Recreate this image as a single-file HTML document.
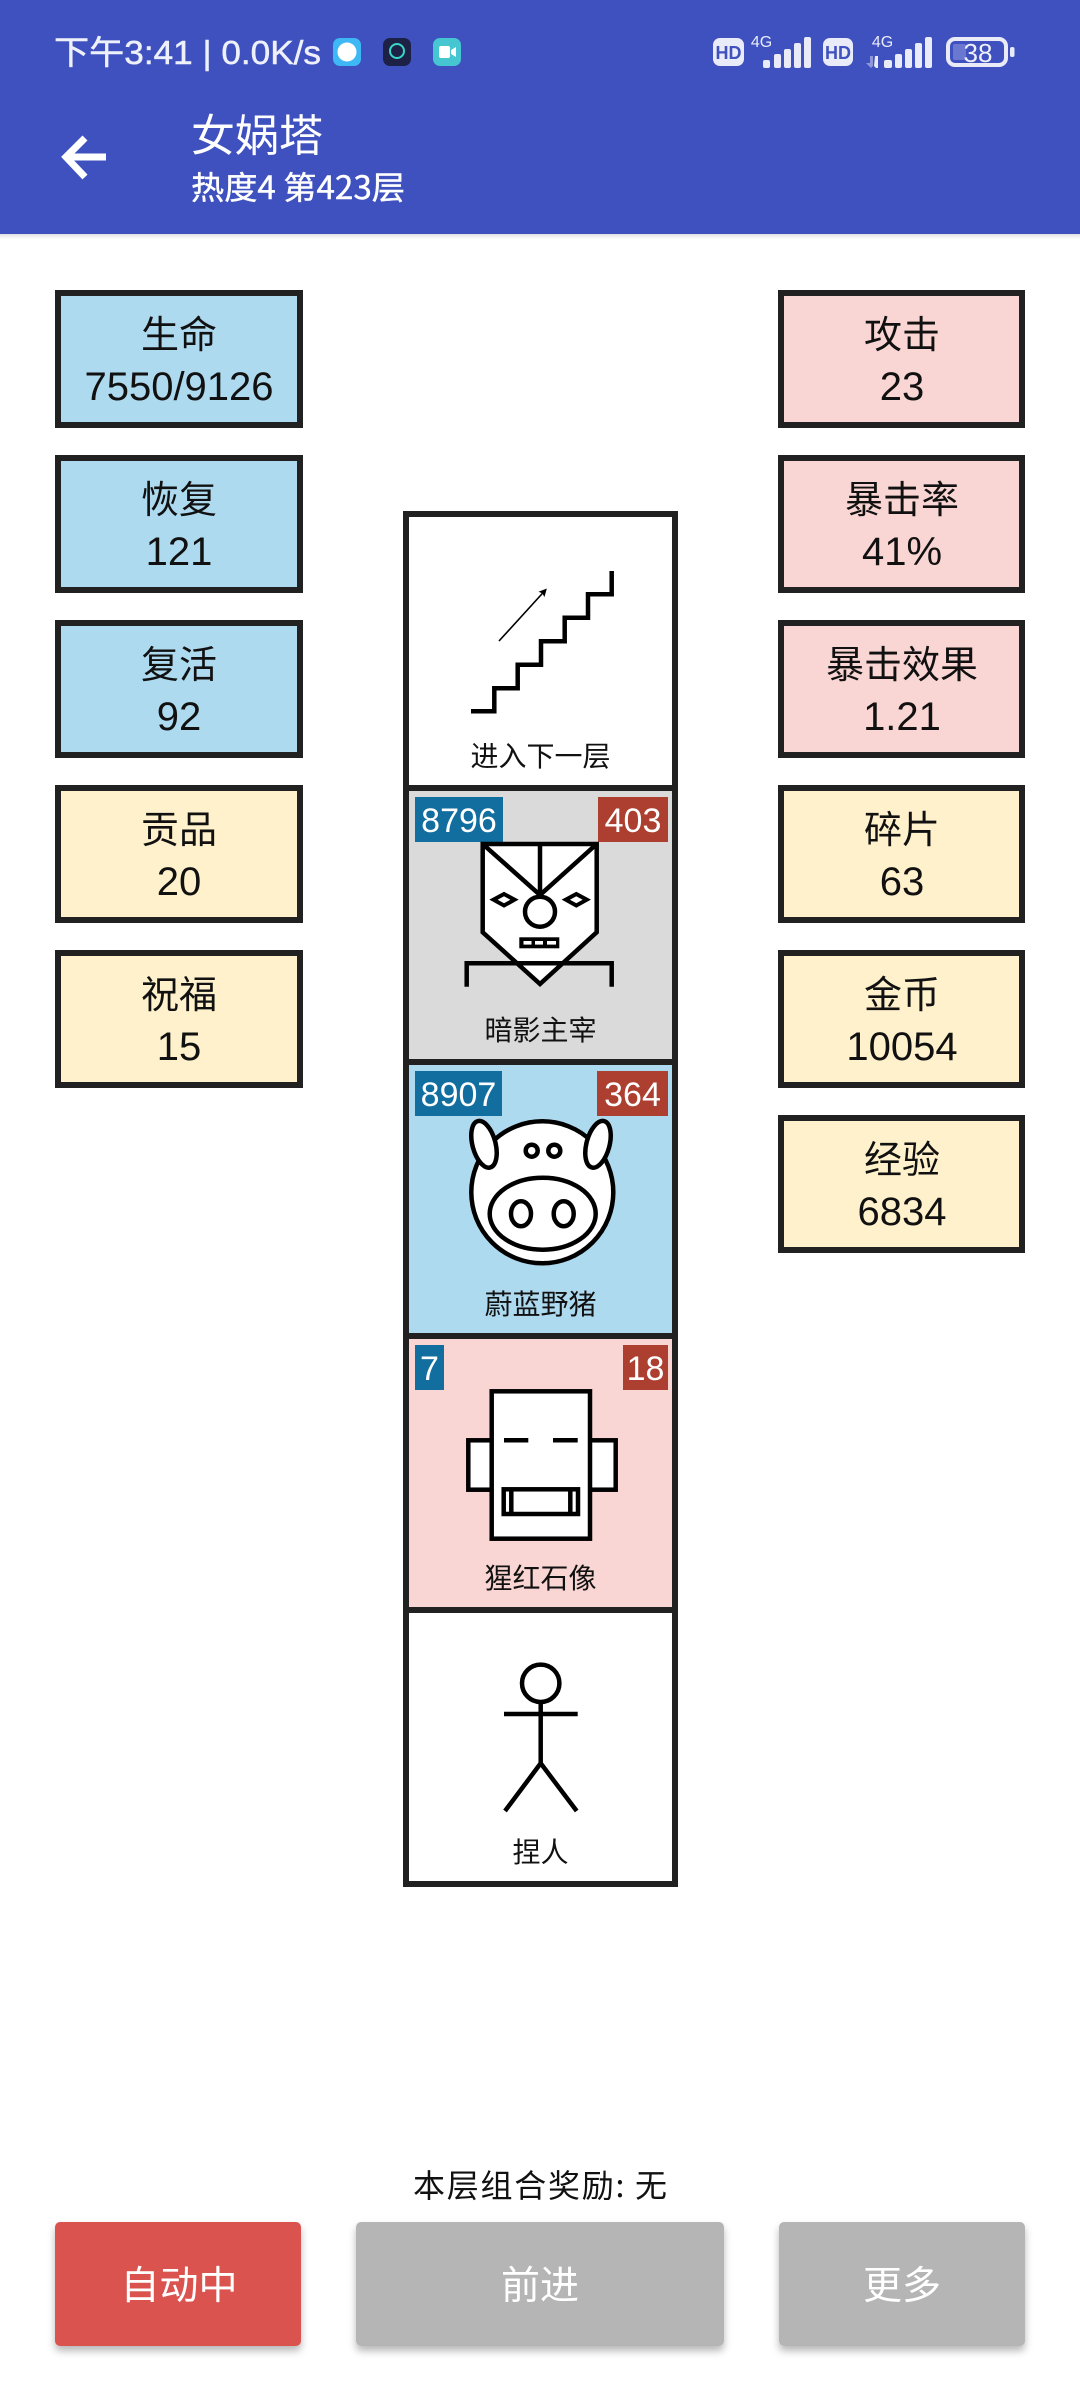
<!DOCTYPE html>
<html lang="zh">
<head>
<meta charset="utf-8">
<title>女娲塔</title>
<style>
html,body{margin:0;padding:0;background:#fff;width:1080px;height:2400px;overflow:hidden}
svg{display:block}
text{font-family:"Liberation Sans","Noto Sans CJK SC",sans-serif}
.cjk{font-family:"Noto Sans CJK SC","Liberation Sans",sans-serif}
.s{font-size:38px;fill:#111;text-anchor:middle}
.n{font-size:40px;fill:#111;text-anchor:middle}
.l{font-size:28px;fill:#111;text-anchor:middle}
.b{font-size:34px;fill:#fff;text-anchor:middle}
.box{stroke:#212121;stroke-width:6}
.k{fill:#fff;stroke:#000;stroke-width:4.5}
.o{fill:none;stroke:#000;stroke-width:4.5}
.btn{font-size:39px;fill:#fff;text-anchor:middle}
</style>
</head>
<body>
<svg width="1080" height="2400" viewBox="0 0 1080 2400" xmlns="http://www.w3.org/2000/svg">
<defs>
<linearGradient id="hs" x1="0" y1="0" x2="0" y2="1"><stop offset="0" stop-color="#000" stop-opacity=".12"/><stop offset="1" stop-color="#000" stop-opacity="0"/></linearGradient>
<filter id="sh" x="-10%" y="-10%" width="120%" height="125%"><feDropShadow dx="0" dy="5" stdDeviation="4" flood-color="#000" flood-opacity=".28"/></filter>
<marker id="ah" markerWidth="8" markerHeight="8" refX="6" refY="4" orient="auto" markerUnits="userSpaceOnUse"><path d="M0 0L8 4L0 8L1.5 4Z" fill="#000"/></marker>
</defs>
<rect width="1080" height="2400" fill="#fff"/>

<!-- Header -->
<rect width="1080" height="234" fill="#3F51BF"/>
<rect y="234" width="1080" height="5" fill="url(#hs)"/>
<text x="54" y="64" font-size="33" fill="#EEF0FA" stroke="#EEF0FA" stroke-width=".5" textLength="267" lengthAdjust="spacingAndGlyphs">下午3:41 | 0.0K/s</text>
<rect x="333" y="38" width="28" height="28" rx="7" fill="#3DB8F5"/><circle cx="347" cy="52" r="9.5" fill="#fff"/>
<rect x="383" y="38" width="28" height="28" rx="7" fill="#1D2145"/><circle cx="397" cy="51" r="7" fill="none" stroke="#38D6C4" stroke-width="2"/>
<rect x="433" y="38" width="28" height="28" rx="7" fill="#45C6D0"/><rect x="439" y="46" width="11" height="12" rx="2" fill="#fff"/><path d="M451 50l5-3v10l-5-3z" fill="#fff"/>

<rect x="713" y="38" width="31" height="28" rx="7" fill="#E9EBF8"/>
<text x="728.5" y="59" font-size="18" font-weight="bold" fill="#3F51BF" text-anchor="middle">HD</text>
<text x="761.5" y="47" font-size="16" fill="#E9EBF8" text-anchor="middle">4G</text>
<g fill="#E9EBF8">
<rect x="763" y="60" width="7" height="8" rx="2"/><rect x="774" y="54" width="7" height="14" rx="2"/><rect x="784" y="49" width="7" height="19" rx="2"/><rect x="794" y="43" width="7" height="25" rx="2"/><rect x="804" y="37" width="7" height="31" rx="2"/>
<rect x="823" y="38" width="30" height="28" rx="7"/>
<rect x="884" y="60" width="8" height="8" rx="2"/><rect x="895" y="54" width="7" height="14" rx="2"/><rect x="905" y="49" width="7" height="19" rx="2"/><rect x="915" y="43" width="7" height="25" rx="2"/><rect x="925" y="37" width="7" height="31" rx="2"/>
<path d="M875 56h3v12h-2l-2-2z"/>
</g>
<path d="M870 56v7h-4l5 5 2-2v-10z" fill="#8C97DC"/>
<text x="838" y="59" font-size="18" font-weight="bold" fill="#3F51BF" text-anchor="middle">HD</text>
<text x="882.5" y="47" font-size="16" fill="#E9EBF8" text-anchor="middle">4G</text>
<rect x="948" y="39" width="58" height="26" rx="7" fill="none" stroke="#E9EBF8" stroke-width="4"/>
<rect x="953" y="44" width="13" height="16" rx="2" fill="#6A78D0"/>
<text x="978" y="62" font-size="26" fill="#EEF0FA" text-anchor="middle">38</text>
<rect x="1010" y="47" width="4.5" height="10" rx="2" fill="#E9EBF8"/>

<path d="M106 157H68M85 138L66 157L85 177" fill="none" stroke="#fff" stroke-width="7"/>
<text class="cjk" x="191" y="151" font-size="44" fill="#fff">女娲塔</text>
<text class="cjk" x="191" y="199" font-size="32" fill="#fff" stroke="#fff" stroke-width=".4" textLength="214" lengthAdjust="spacingAndGlyphs">热度4 第423层</text>

<!-- Stats -->
<g class="box">
<rect x="58" y="293" width="242" height="132" fill="#AEDAF0"/>
<rect x="58" y="458" width="242" height="132" fill="#AEDAF0"/>
<rect x="58" y="623" width="242" height="132" fill="#AEDAF0"/>
<rect x="58" y="788" width="242" height="132" fill="#FFF1CC"/>
<rect x="58" y="953" width="242" height="132" fill="#FFF1CC"/>
<rect x="781" y="293" width="241" height="132" fill="#F9D6D3"/>
<rect x="781" y="458" width="241" height="132" fill="#F9D6D3"/>
<rect x="781" y="623" width="241" height="132" fill="#F9D6D3"/>
<rect x="781" y="788" width="241" height="132" fill="#FFF1CC"/>
<rect x="781" y="953" width="241" height="132" fill="#FFF1CC"/>
<rect x="781" y="1118" width="241" height="132" fill="#FFF1CC"/>
</g>
<g>
<text class="s cjk" x="179" y="348">生命</text><text class="n" x="179" y="400">7550/9126</text>
<text class="s cjk" x="179" y="513">恢复</text><text class="n" x="179" y="565">121</text>
<text class="s cjk" x="179" y="678">复活</text><text class="n" x="179" y="730">92</text>
<text class="s cjk" x="179" y="843">贡品</text><text class="n" x="179" y="895">20</text>
<text class="s cjk" x="179" y="1008">祝福</text><text class="n" x="179" y="1060">15</text>
<text class="s cjk" x="902" y="348">攻击</text><text class="n" x="902" y="400">23</text>
<text class="s cjk" x="902" y="513">暴击率</text><text class="n" x="902" y="565">41%</text>
<text class="s cjk" x="902" y="678">暴击效果</text><text class="n" x="902" y="730">1.21</text>
<text class="s cjk" x="902" y="843">碎片</text><text class="n" x="902" y="895">63</text>
<text class="s cjk" x="902" y="1008">金币</text><text class="n" x="902" y="1060">10054</text>
<text class="s cjk" x="902" y="1173">经验</text><text class="n" x="902" y="1225">6834</text>
</g>

<!-- Tower -->
<rect x="409" y="517" width="263" height="268" fill="#fff"/>
<rect x="409" y="791" width="263" height="268" fill="#DADADA"/>
<rect x="409" y="1065" width="263" height="268" fill="#AEDAF0"/>
<rect x="409" y="1339" width="263" height="268" fill="#F9D6D3"/>
<rect x="409" y="1613" width="263" height="268" fill="#fff"/>
<g fill="#212121">
<rect x="403" y="511" width="6" height="1376"/><rect x="672" y="511" width="6" height="1376"/>
<rect x="403" y="511" width="275" height="6"/><rect x="403" y="785" width="275" height="6"/><rect x="403" y="1059" width="275" height="6"/><rect x="403" y="1333" width="275" height="6"/><rect x="403" y="1607" width="275" height="6"/><rect x="403" y="1881" width="275" height="6"/>
</g>

<!-- Stairs -->
<polyline class="o" points="471,711.3 494.3,711.3 494.3,688.3 517.7,688.3 517.7,664.7 541,664.7 541,641.3 564.7,641.3 564.7,617.7 588,617.7 588,594.3 611.7,594.3 611.7,571"/>
<line x1="499" y1="641" x2="545.5" y2="590" stroke="#000" stroke-width="1.6" marker-end="url(#ah)"/>
<text class="l cjk" x="540.5" y="766">进入下一层</text>

<!-- Shadow boss -->
<rect x="415" y="797" width="88" height="45" fill="#126E9F"/>
<rect x="598" y="797" width="70" height="45" fill="#AC3F2F"/>
<text class="b" x="459" y="832">8796</text><text class="b" x="633" y="832">403</text>
<polygon class="k" points="482.7,844 596.7,844 596.7,932.3 540,984 482.7,932.3"/>
<path class="o" d="M482.7 844L540 895L596.7 844M540 844V895"/>
<circle class="k" cx="540" cy="911.7" r="15"/>
<polygon points="504,894 514.5,899.7 504,905.5 493.5,899.7" fill="#fff" stroke="#000" stroke-width="4"/>
<polygon points="576.3,894 586.8,899.7 576.3,905.5 565.8,899.7" fill="#fff" stroke="#000" stroke-width="4"/>
<rect x="519.3" y="937.3" width="40" height="11" fill="#000"/>
<rect x="523.5" y="941" width="8" height="3.6" fill="#fff"/><rect x="535" y="941" width="8" height="3.6" fill="#fff"/><rect x="547" y="941" width="9" height="3.6" fill="#fff"/>
<polyline class="o" points="466.7,986.7 466.7,963.3 611.7,963.3 611.7,986.7"/>
<text class="l cjk" x="540.5" y="1040">暗影主宰</text>

<!-- Pig -->
<rect x="415" y="1071" width="87" height="45" fill="#126E9F"/>
<rect x="597" y="1071" width="71" height="45" fill="#AC3F2F"/>
<text class="b" x="458.5" y="1106">8907</text><text class="b" x="632.5" y="1106">364</text>
<circle class="k" cx="542.3" cy="1192.3" r="71"/>
<ellipse class="k" cx="484" cy="1144.3" rx="11.5" ry="24" transform="rotate(-15 484 1144.3)"/>
<ellipse class="k" cx="598" cy="1144.3" rx="11.5" ry="24" transform="rotate(15 598 1144.3)"/>
<circle class="k" cx="531.7" cy="1150.7" r="6"/><circle class="k" cx="554.3" cy="1150.7" r="6"/>
<ellipse class="k" cx="542.7" cy="1213.7" rx="53" ry="36"/>
<ellipse class="k" cx="521" cy="1213.7" rx="10" ry="12.5"/><ellipse class="k" cx="563.7" cy="1213.7" rx="10" ry="12.5"/>
<text class="l cjk" x="540.5" y="1314">蔚蓝野猪</text>

<!-- Statue -->
<rect x="415" y="1345" width="29" height="45" fill="#126E9F"/>
<rect x="623" y="1345" width="45" height="45" fill="#AC3F2F"/>
<text class="b" x="429.5" y="1380">7</text><text class="b" x="645.5" y="1380">18</text>
<rect class="k" x="468.3" y="1440.3" width="147.4" height="49.4"/>
<rect class="k" x="491.7" y="1391.3" width="98.3" height="147.4"/>
<path class="o" d="M504 1440.3H528.3M553 1440.3H577.7"/>
<rect class="k" x="503.7" y="1489.3" width="74.3" height="24.7"/>
<path class="o" d="M511.3 1489V1514M570.3 1489V1514"/>
<text class="l cjk" x="540.5" y="1588">猩红石像</text>

<!-- Person -->
<circle class="o" cx="540.7" cy="1683.3" r="18.7"/>
<path class="o" d="M540.7 1702V1763.3M504 1714H577.7M505 1811L540.7 1763.3L576.7 1811"/>
<text class="l cjk" x="540.5" y="1862">捏人</text>

<!-- Bottom -->
<text class="cjk" x="540" y="2197" font-size="32" fill="#111" text-anchor="middle" textLength="254" lengthAdjust="spacing">本层组合奖励: 无</text>
<rect x="55" y="2222" width="246" height="124" rx="5" fill="#DB5350" filter="url(#sh)"/>
<rect x="356" y="2222" width="368" height="124" rx="5" fill="#B5B5B5" filter="url(#sh)"/>
<rect x="779" y="2222" width="246" height="124" rx="5" fill="#B5B5B5" filter="url(#sh)"/>
<text class="btn cjk" x="179" y="2299">自动中</text>
<text class="btn cjk" x="540" y="2299">前进</text>
<text class="btn cjk" x="902" y="2299">更多</text>
</svg>
</body>
</html>
